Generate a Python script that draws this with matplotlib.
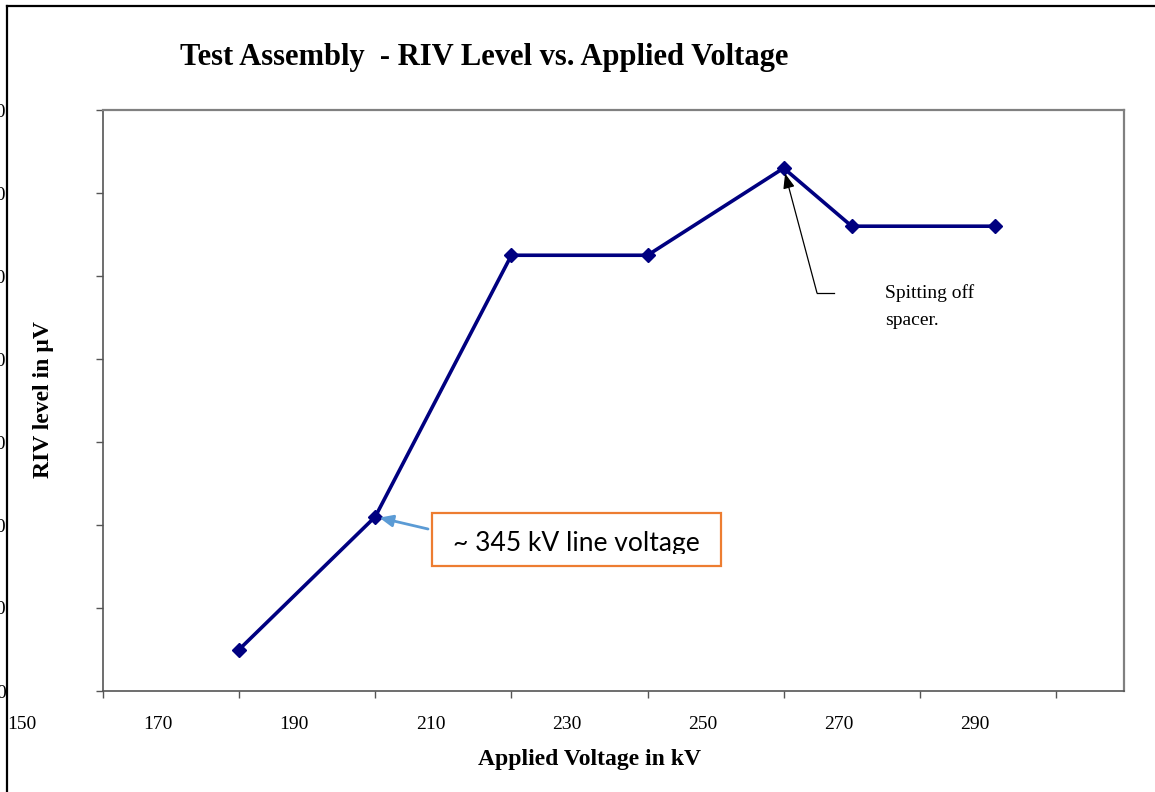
import matplotlib
matplotlib.use("Agg")
import matplotlib.pyplot as plt
import matplotlib.transforms as mtransforms
from matplotlib.patches import Rectangle
from matplotlib.lines import Line2D

# ---- data ----
voltage_kv = [170, 190, 210, 230, 250, 260, 281]
riv_uv = [5, 21, 52.5, 52.5, 63, 56, 56]
x_ticks = [150, 170, 190, 210, 230, 250, 270, 290]
x_tick_labels = ["150", "170", "190", "210", "230", "250", "270", "290"]
y_ticks = [0, 10, 20, 30, 40, 50, 60, 70]
y_tick_labels = ["0", "10", "20", "30", "40", "50", "60", "70"]
title = "Test Assembly  - RIV Level vs. Applied Voltage"
x_label = "Applied Voltage in kV"
y_label = "RIV level in \u00b5V"
note_peak = "Spitting off\nspacer."
note_line = "~ 345 kV line voltage"

W, H = 1155, 792
fig = plt.figure(figsize=(W / 100, H / 100), dpi=100)
serif = "Liberation Serif"

def fx(px):
    return px / W

def fy(py):
    return 1 - py / H

ax = fig.add_axes([fx(103), fy(691), (1124 - 103) / W, (691 - 110) / H])
ax.plot(voltage_kv, riv_uv, color="#000080", lw=2.6, marker="D", ms=7,
        mfc="#000080", mec="#000080", zorder=3)
ax.set_xlim(150, 300)
ax.set_ylim(0, 70)

for s in ["left", "bottom"]:
    ax.spines[s].set_color("#555555")
    ax.spines[s].set_linewidth(1.2)
for s in ["top", "right"]:
    ax.spines[s].set_color("#808080")
    ax.spines[s].set_linewidth(1.6)

ax.set_xticks(x_ticks)
ax.set_xticklabels(x_tick_labels, fontfamily=serif, fontsize=14)
ax.set_yticks(y_ticks)
ax.set_yticklabels(y_tick_labels, fontfamily=serif, fontsize=14)
ax.tick_params(axis="x", direction="out", length=5, width=1, color="#555555", pad=13)
ax.tick_params(axis="y", direction="out", length=5, width=1, color="#555555", pad=65)

offset = mtransforms.ScaledTranslation(-81 / 100, 0, fig.dpi_scale_trans)
for lab in ax.get_xticklabels():
    lab.set_transform(lab.get_transform() + offset)

# titles and labels
fig.text(fx(484), fy(57), title, ha="center", va="center", fontfamily=serif,
         fontweight="bold", fontsize=22)
fig.text(fx(590), fy(760), x_label, ha="center", va="center", fontfamily=serif,
         fontweight="bold", fontsize=17)
fig.text(fx(44), fy(400), y_label, ha="center", va="center", rotation=90,
         fontfamily=serif, fontweight="bold", fontsize=17)

# outer chart border (partly cropped)
fig.add_artist(Line2D([fx(7), fx(7)], [fy(6), fy(792)], color="black", lw=1.6,
                      transform=fig.transFigure))
fig.add_artist(Line2D([fx(7), fx(1155)], [fy(6), fy(6)], color="black", lw=1.6,
                      transform=fig.transFigure))

# peak annotation
fig.add_artist(Line2D([fx(817), fx(834)], [fy(293), fy(293)], color="black", lw=0.9,
                      transform=fig.transFigure))
ax.annotate("", xy=(voltage_kv[4], riv_uv[4]), xycoords="data",
            xytext=(fx(817), fy(293)), textcoords="figure fraction",
            arrowprops=dict(arrowstyle="-|>,head_length=0.9,head_width=0.35",
                            color="black", lw=0.9, shrinkA=0, shrinkB=4))
fig.text(fx(885), fy(284), note_peak, ha="left", va="top", fontfamily=serif,
         fontsize=14, linespacing=1.75)

# line-voltage annotation
ax.annotate("", xy=(voltage_kv[1], riv_uv[1]), xycoords="data",
            xytext=(fx(428), fy(529)), textcoords="figure fraction",
            arrowprops=dict(arrowstyle="-|>,head_length=0.8,head_width=0.35",
                            color="#5B9BD5", lw=2, shrinkA=0, shrinkB=3))
fig.add_artist(Rectangle((fx(432), fy(566)), fx(721) - fx(432), fy(513) - fy(566),
                         transform=fig.transFigure, fill=True, facecolor="white",
                         edgecolor="#ED7D31", lw=1.6))
t = fig.text(fx(576), fy(543), note_line, ha="center", va="center",
             fontfamily="Lato", fontsize=19)
clip = mtransforms.TransformedBbox(
    mtransforms.Bbox.from_extents(fx(433), fy(554), fx(720), fy(514)),
    fig.transFigure)
t.set_clip_box(clip)
t.set_clip_on(True)

fig.savefig("out.png", dpi=100)
